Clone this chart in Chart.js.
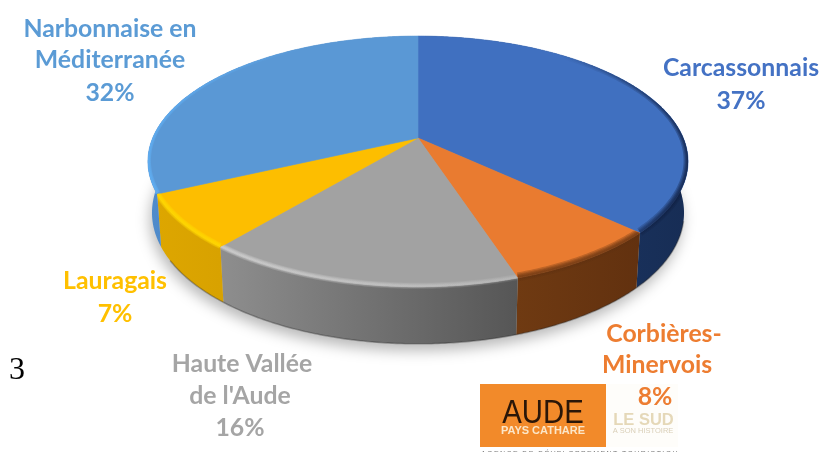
<!DOCTYPE html>
<html lang="fr">
<head>
<meta charset="utf-8">
<style>html,body{margin:0;padding:0;background:#fff}#w{width:821px;height:452px;position:relative}</style>
<script src="https://cdn.jsdelivr.net/npm/chart.js@4"></script>
</head>
<body>
<div id="w"><canvas id="c" width="821" height="452"></canvas></div>
<script>
const categories = ["Carcassonnais", "Corbières-Minervois", "Haute Vallée de l'Aude", "Lauragais", "Narbonnaise en Méditerranée"];
const values = [37, 8, 16, 7, 32];
const faceColors = ["#4070C0", "#E97B30", "#A2A2A2", "#FDBE00", "#5A98D5"];
const wallStops = [
  ["#1F3C6E", "#172D55"],
  ["#6F3A12", "#62310F"],
  ["#8E8E8E", "#565656"],
  ["#DDA600", "#D8A200"],
  ["#4F8BCB", "#3F78B8"]
];
const labelLines = [
  [["Carcassonnais", 741, 68], ["37%", 741, 101]],
  [["Corbières-", 664, 334], ["Minervois", 657, 365], ["8%", 655, 397]],
  [["Haute Vallée", 242, 364], ["de l'Aude", 240, 396], ["16%", 240, 428]],
  [["Lauragais", 115, 281], ["7%", 115, 314]],
  [["Narbonnaise en", 110, 29], ["Méditerranée", 110, 60], ["32%", 110, 93]]
];
const labelColors = ["#4472C4", "#ED7D31", "#A5A5A5", "#FFC000", "#5B9BD5"];

const CY = 138, RX = 265.3, RY = 121, K = 0.187;
function pt(a, bottom) {
  const c = Math.cos(a), s = Math.sin(a), w = 1 - K * s;
  const f = bottom ? 0.985 : 1;
  return [418 + f * RX * c / w, CY + RY * s / w + (bottom ? 50 + 7 * Math.max(s, 0) : 0)];
}
function ringPts(a0, a1, bottom) {
  const n = Math.max(2, Math.ceil(Math.abs(a1 - a0) / 0.01)), out = [];
  for (let i = 0; i <= n; i++) out.push(pt(a0 + (a1 - a0) * i / n, bottom));
  return out;
}
function trace(ctx, pts, cont) {
  pts.forEach((p, i) => (i === 0 && !cont) ? ctx.moveTo(p[0], p[1]) : ctx.lineTo(p[0], p[1]));
}

const pie3d = {
  id: 'pie3d',
  beforeDatasetsDraw(chart) {
    const ctx = chart.ctx, arcs = chart.getDatasetMeta(0).data;
    const TAU = Math.PI * 2;
    ctx.save();
    // soft ground shadow
    ctx.save();
    ctx.filter = 'blur(7px)';
    ctx.fillStyle = 'rgba(0,0,0,0.28)';
    ctx.beginPath();
    ringPts(0, TAU, true).forEach((p, i) => i ? ctx.lineTo(p[0] - 2, p[1] + 7) : ctx.moveTo(p[0] - 2, p[1] + 7));
    ctx.closePath();
    ctx.fill();
    ctx.restore();
    // outer walls
    arcs.forEach((arc, i) => {
      const top = ringPts(arc.startAngle, arc.endAngle, false);
      const bot = ringPts(arc.endAngle, arc.startAngle, true);
      const xs = top.map(p => p[0]);
      const g = ctx.createLinearGradient(Math.min(...xs), 0, Math.max(...xs), 0);
      g.addColorStop(0, wallStops[i][0]);
      g.addColorStop(1, wallStops[i][1]);
      ctx.fillStyle = g;
      ctx.beginPath();
      trace(ctx, top);
      trace(ctx, bot, true);
      ctx.closePath();
      ctx.fill();
    });
    // thin dark foot on the wall
    ctx.save();
    ctx.strokeStyle = 'rgba(40,40,40,0.35)';
    ctx.lineWidth = 1.5;
    ctx.beginPath();
    trace(ctx, ringPts(0.25, 2.6, true));
    ctx.stroke();
    ctx.restore();
    // top faces
    arcs.forEach((arc, i) => {
      ctx.fillStyle = faceColors[i];
      ctx.beginPath();
      ctx.moveTo(418, CY);
      trace(ctx, ringPts(arc.startAngle, arc.endAngle, false), true);
      ctx.closePath();
      ctx.fill();
      ctx.strokeStyle = faceColors[i];
      ctx.lineWidth = 0.6;
      ctx.stroke();
    });
    // rounded rim, soft layered strokes
    const rim = [
      [560, 685, [15, 30, 65], 0, 0.35, 9],
      [520, 640, [95, 48, 15], 0.3, 0.3, 9],
      [222, 520, [215, 215, 215], 0.28, 0.1, 6],
      [158, 222, [255, 215, 0], 0.4, 0.4, 6],
      [150, 300, [95, 172, 240], 0.55, 0, 6]
    ];
    arcs.forEach((arc, i) => {
      ctx.save();
      ctx.beginPath();
      ctx.moveTo(418, CY);
      trace(ctx, ringPts(arc.startAngle, arc.endAngle, false), true);
      ctx.closePath();
      trace(ctx, ringPts(arc.startAngle, arc.endAngle, false));
      trace(ctx, ringPts(arc.endAngle, arc.startAngle, true), true);
      ctx.closePath();
      ctx.clip();
      const r = rim[i];
      const g = ctx.createLinearGradient(r[0], 0, r[1], 0);
      g.addColorStop(0, 'rgba(' + r[2].join(',') + ',' + r[3] + ')');
      g.addColorStop(1, 'rgba(' + r[2].join(',') + ',' + r[4] + ')');
      ctx.strokeStyle = g;
      const pts = ringPts(arc.startAngle, arc.endAngle, false).map(p => [p[0], p[1] - 1]);
      [1, 0.7, 0.45, 0.2].forEach(m => {
        ctx.lineWidth = r[5] * m;
        ctx.beginPath();
        trace(ctx, pts);
        ctx.stroke();
      });
      ctx.restore();
    });
    ctx.restore();
    return false;
  },
  afterDraw(chart) {
    const ctx = chart.ctx;
    ctx.save();
    // stray "3"
    ctx.fillStyle = '#000';
    ctx.textAlign = 'center';
    ctx.textBaseline = 'alphabetic';
    ctx.font = '32px "Liberation Serif"';
    ctx.fillText('3', 17, 379);
    // logo block
    ctx.fillStyle = '#FEFDFA';
    ctx.fillRect(606, 384, 72, 63);
    ctx.fillStyle = '#F28A2A';
    ctx.fillRect(480, 384, 126, 63);
    ctx.fillStyle = '#2A1608';
    ctx.font = '33px "Liberation Sans"';
    ctx.save();
    ctx.translate(543, 423);
    ctx.scale(0.89, 1);
    ctx.fillText('AUDE', 0, 0);
    ctx.restore();
    ctx.fillStyle = '#FBE6C8';
    ctx.font = 'bold 11px "Liberation Sans"';
    ctx.fillText('PAYS CATHARE', 543, 434);
    ctx.fillStyle = '#E5D8B8';
    ctx.font = 'bold 16.5px "Liberation Sans"';
    ctx.fillText('LE SUD', 643.5, 425);
    ctx.fillStyle = '#D9CFB8';
    ctx.font = '7.5px "Liberation Sans"';
    ctx.fillText('A SON HISTOIRE', 643, 433);
    ctx.save();
    ctx.beginPath();
    ctx.rect(480, 447, 198, 5);
    ctx.clip();
    ctx.fillStyle = '#777';
    ctx.font = '7px "Liberation Sans"';
    ctx.textAlign = 'left';
    ctx.letterSpacing = '1.4px';
    ctx.fillText('AGENCE DE DÉVELOPPEMENT TOURISTIQUE', 481, 456);
    ctx.restore();
    ctx.letterSpacing = '0px';
    ctx.textAlign = 'center';
    // category labels
    ctx.font = 'bold 24.8px Lato';
    labelLines.forEach((lines, i) => {
      ctx.fillStyle = labelColors[i];
      lines.forEach(l => ctx.fillText(l[0], l[1], l[2] + 8));
    });
    ctx.restore();
  }
};

new Chart(document.getElementById('c'), {
  type: 'pie',
  data: { labels: categories, datasets: [{ data: values, backgroundColor: faceColors, borderWidth: 0 }] },
  options: {
    responsive: false,
    animation: false,
    layout: { padding: { left: 15 } },
    plugins: { legend: { display: false }, tooltip: { enabled: false } }
  },
  plugins: [{ id: 'bg', beforeDraw(ch) { ch.ctx.save(); ch.ctx.fillStyle = '#fff'; ch.ctx.fillRect(0, 0, 821, 452); ch.ctx.restore(); } }, pie3d]
});
</script>
</body>
</html>
